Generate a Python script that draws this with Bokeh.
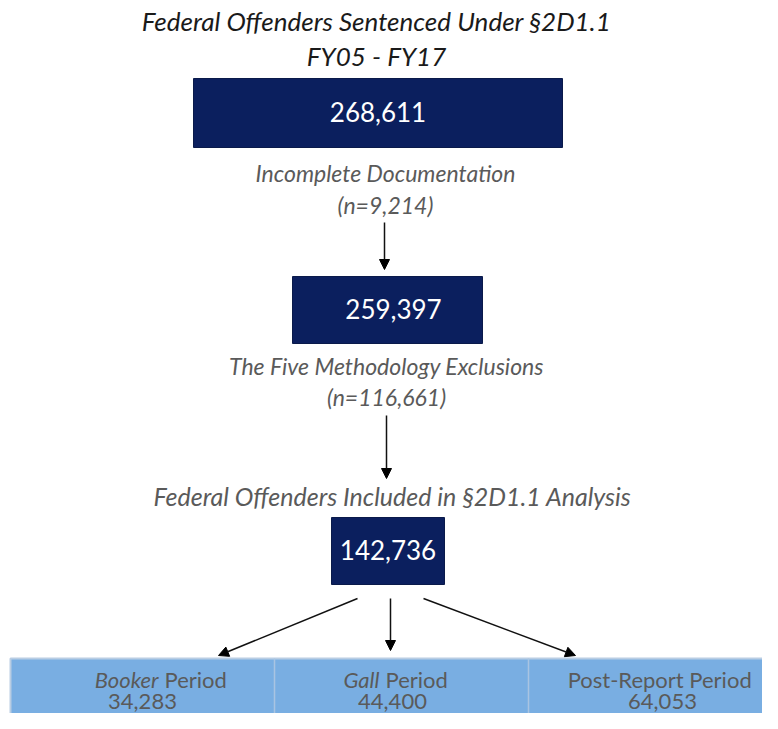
from bokeh.plotting import figure
from bokeh.models import Range1d, Arrow, NormalHead
from bokeh.core.properties import value
from bokeh.embed import file_html
from bokeh.resources import INLINE

# ---- data ----
title_lines = ["Federal Offenders Sentenced Under \u00a72D1.1", "FY05 - FY17"]
stage_values = ["268,611", "259,397", "142,736"]
step_labels = ["Incomplete Documentation", "The Five Methodology Exclusions"]
step_counts = ["(n=9,214)", "(n=116,661)"]
included_label = "Federal Offenders Included in \u00a72D1.1 Analysis"
period_italic = ["Booker", "Gall"]
period_plain = ["Period", "Period", "Post-Report  Period"]
period_counts = ["34,283", "44,400", "64,053"]

NAVY = "#0b1f5e"
GRAY = "#5a5a5a"
BAND = "#79aee2"
FONT = value("Lato")

p = figure(width=762, height=713, x_range=Range1d(0, 762), y_range=Range1d(713, 0),
           output_backend="svg", toolbar_location=None, min_border=0)
p.axis.visible = False
p.grid.visible = False
p.outline_line_color = None
p.background_fill_color = "white"

# title
p.text(x=[376, 376], y=[20, 55], text=title_lines, text_font=FONT, text_font_size="26px",
       text_font_style="italic", text_color="#1a1a1a", text_align="center", text_baseline="middle")

# boxes
box_l = [193, 292, 331]
box_r = [562, 482, 444]
box_t = [78, 276, 517]
box_b = [147, 343, 584]
p.quad(left=box_l, right=box_r, top=box_t, bottom=box_b, fill_color=NAVY, line_color="#0a1a4a")
bx = [(l + r) / 2 for l, r in zip(box_l, box_r)]
by = [(t + b) / 2 - 1 for t, b in zip(box_t, box_b)]
bx[1] += 6
p.text(x=bx, y=by, text=stage_values, text_font=FONT, text_font_size="26px",
       text_color="white", text_align="center", text_baseline="middle")

# step labels
p.text(x=[385, 386], y=[172, 365], text=step_labels, text_font=FONT, text_font_size="23px",
       text_font_style="italic", text_color=GRAY, text_align="center", text_baseline="middle")
p.text(x=[385, 386], y=[204, 396], text=step_counts, text_font=FONT, text_font_size="23px",
       text_font_style="italic", text_color=GRAY, text_align="center", text_baseline="middle")
p.text(x=[392], y=[495], text=[included_label], text_font=FONT, text_font_size="25px",
       text_font_style="italic", text_color=GRAY, text_align="center", text_baseline="middle")

# arrows
arrows = [(384, 222, 384, 269), (386, 415, 386, 478),
          (357, 598, 218, 655), (390, 598, 390, 650), (423, 598, 575, 655)]
for x0, y0, x1, y1 in arrows:
    p.add_layout(Arrow(end=NormalHead(size=10, fill_color="black", line_color="black"),
                       x_start=x0, y_start=y0, x_end=x1, y_end=y1,
                       line_color="#111111", line_width=1.5))

# bottom band
p.quad(left=[10], right=[775], top=[658], bottom=[720], fill_color=BAND, line_color="#b9cde3", line_width=2)
p.segment(x0=[274, 528], y0=[658, 658], x1=[274, 528], y1=[720, 720], line_color="#a9c4e2", line_width=1.5)

# period labels (italic part right-aligned, plain part left-aligned)
split_x = [158, 379]
p.text(x=split_x, y=[679, 679], text=period_italic, text_font=FONT, text_font_size="22px",
       text_font_style="italic", text_color=GRAY, text_align="right", text_baseline="middle")
p.text(x=[s + 6 for s in split_x], y=[679, 679], text=period_plain[:2], text_font=FONT,
       text_font_size="22px", text_color=GRAY, text_align="left", text_baseline="middle")
p.text(x=[662], y=[679], text=[period_plain[2]], text_font=FONT, text_font_size="22px",
       text_color=GRAY, text_align="center", text_baseline="middle")
p.text(x=[142, 392, 662], y=[701, 701, 701], text=period_counts, text_font=FONT, text_font_size="22px",
       text_color=GRAY, text_align="center", text_baseline="middle")

open("out.html", "w").write(file_html(p, INLINE))
